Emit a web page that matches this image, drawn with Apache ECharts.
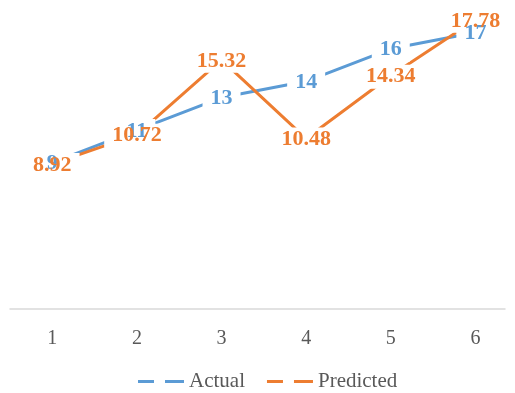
<!DOCTYPE html>
<html>
<head>
<meta charset="utf-8">
<style>
  html, body { margin: 0; padding: 0; background: #ffffff; }
  #chart { width: 515px; height: 393px; }
</style>
<script src="https://cdn.jsdelivr.net/npm/echarts@6/dist/echarts.min.js"></script>
</head>
<body>
<div id="chart"></div>
<script>
// Sample index along the horizontal axis
const categories = [1, 2, 3, 4, 5, 6];
// Observed values
const actual = [9, 11, 13, 14, 16, 17];
// Model output for the same samples
const predicted = [8.92, 10.72, 15.32, 10.48, 14.34, 17.78];

const FONT = "'Liberation Serif', 'Times New Roman', serif";
const BLUE = '#5B9BD5';
const ORANGE = '#ED7D31';

// Legend glyph: a broken line (two short dashes)
const DASH_ICON = 'path://M0,0H16V3H0Z M27,0H46V3H27Z';

function pairs(values) {
  return values.map((v, i) => [categories[i], v]);
}

const labelBase = {
  show: true,
  position: 'inside',
  offset: [0, 1],
  fontFamily: FONT,
  fontWeight: 'bold',
  fontSize: 22,
  lineHeight: 22,
  formatter: p => String(p.value[1])
};

// The line itself; its labels are blank white boxes that open a gap in the
// lines around each value
function lineSeries(name, values, color) {
  return {
    name: name,
    type: 'line',
    data: pairs(values),
    symbol: 'circle',
    symbolSize: 0.1,
    itemStyle: { color: color },
    lineStyle: { color: color, width: 3 },
    label: Object.assign({}, labelBase, {
      color: 'rgba(255,255,255,0)',
      backgroundColor: '#ffffff',
      padding: [1, 8]
    }),
    emphasis: { disabled: true },
    animation: false
  };
}

// The value texts, drawn above every gap box
function valueTexts(name, values, color) {
  return {
    name: name,
    type: 'line',
    data: pairs(values),
    symbol: 'circle',
    symbolSize: 0.1,
    itemStyle: { color: color },
    lineStyle: { opacity: 0 },
    label: Object.assign({}, labelBase, { color: color }),
    emphasis: { disabled: true },
    animation: false
  };
}

const chart = echarts.init(document.getElementById('chart'), null, { renderer: 'canvas' });
chart.setOption({
  backgroundColor: '#ffffff',
  animation: false,
  grid: { left: 10, right: 10, top: 0, bottom: 84 },
  xAxis: {
    type: 'value',
    min: 0.5,
    max: 6.35,
    splitLine: { show: false },
    axisTick: { show: false },
    axisLine: { show: true, lineStyle: { color: '#d9d9d9', width: 1.5 } },
    axisLabel: {
      customValues: categories,
      color: '#595959',
      fontFamily: FONT,
      fontSize: 20,
      margin: 20
    }
  },
  yAxis: {
    type: 'value',
    min: 0,
    max: 19,
    show: false
  },
  legend: {
    left: 133,
    top: 366,
    itemWidth: 46,
    itemHeight: 3,
    itemGap: 22,
    icon: DASH_ICON,
    textStyle: { color: '#595959', fontFamily: FONT, fontSize: 21 },
    data: ['Actual', 'Predicted']
  },
  series: [
    lineSeries('Actual', actual, BLUE),
    lineSeries('Predicted', predicted, ORANGE),
    valueTexts('Actual', actual, BLUE),
    valueTexts('Predicted', predicted, ORANGE)
  ]
});
</script>
</body>
</html>
